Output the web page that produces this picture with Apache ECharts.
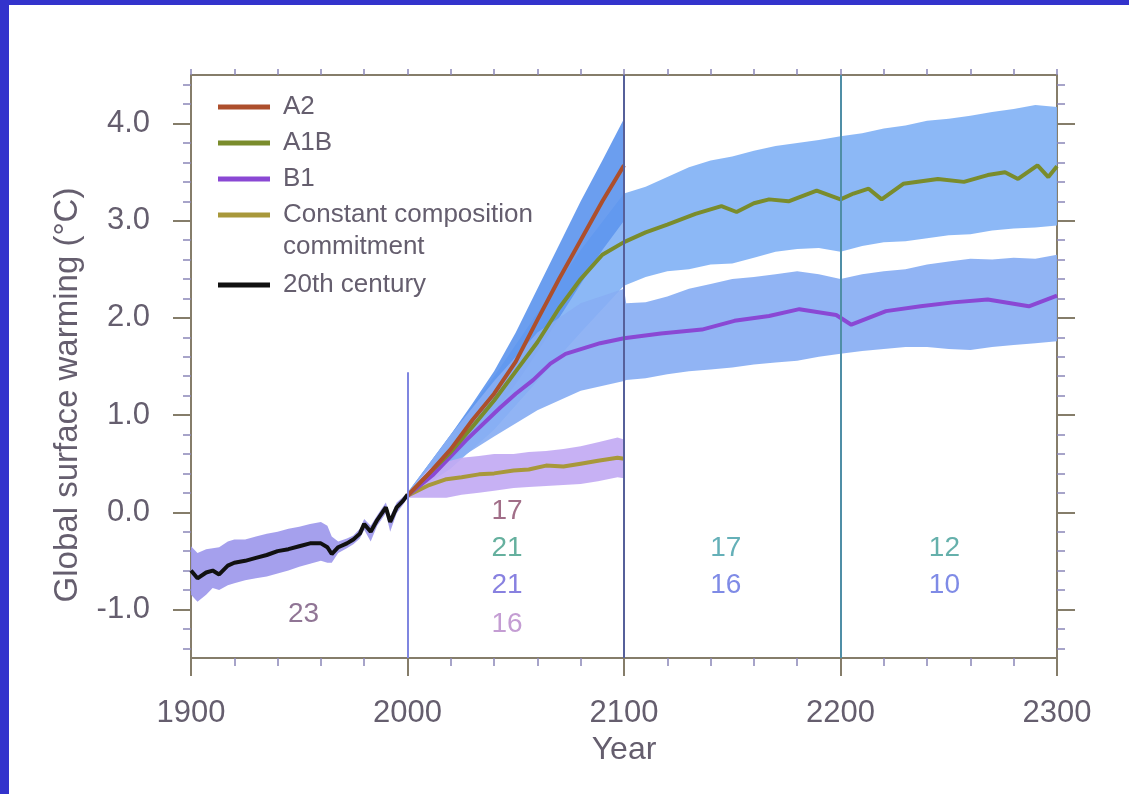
<!DOCTYPE html>
<html>
<head>
<meta charset="utf-8">
<title>Global surface warming</title>
<script src="https://cdn.jsdelivr.net/npm/echarts@6/dist/echarts.min.js"></script>
<style>
  html, body { margin: 0; padding: 0; background: #fff; }
  #chart { width: 1129px; height: 794px; }
</style>
</head>
<body>
<div id="chart"></div>
<script>
// 20th century
const histYears = [1900,1903,1907,1910,1913,1917,1920,1925,1930,1935,1940,1945,1950,1955,1960,1963,1965,1968,1972,1975,1978,1980,1983,1986,1990,1992,1995,1998,2000];
const hist   = [-0.6,-0.68,-0.62,-0.6,-0.64,-0.55,-0.52,-0.5,-0.47,-0.44,-0.4,-0.38,-0.35,-0.32,-0.32,-0.36,-0.43,-0.36,-0.32,-0.28,-0.22,-0.12,-0.2,-0.08,0.05,-0.1,0.05,0.12,0.18];
const histHi = [-0.35,-0.42,-0.38,-0.37,-0.36,-0.3,-0.28,-0.28,-0.25,-0.22,-0.2,-0.17,-0.15,-0.12,-0.1,-0.14,-0.25,-0.3,-0.27,-0.24,-0.17,-0.07,-0.14,-0.03,0.1,-0.04,0.1,0.16,0.2];
const histLo = [-0.85,-0.92,-0.85,-0.78,-0.8,-0.75,-0.73,-0.7,-0.68,-0.66,-0.63,-0.6,-0.56,-0.53,-0.5,-0.52,-0.52,-0.42,-0.37,-0.33,-0.27,-0.18,-0.3,-0.14,-0.01,-0.2,-0.01,0.08,0.15];

// A2
const a2Years = [2000,2010,2020,2030,2040,2050,2060,2070,2080,2090,2100];
const a2   = [0.17,0.4,0.65,0.95,1.22,1.55,1.98,2.4,2.8,3.2,3.57];
const a2Hi = [0.2,0.5,0.8,1.12,1.45,1.85,2.3,2.75,3.2,3.62,4.05];
const a2Lo = [0.15,0.32,0.52,0.78,1.02,1.32,1.65,2.0,2.35,2.7,3.0];

// A1B
const a1bYears = [2000,2010,2020,2030,2040,2050,2060,2070,2080,2090,2100,2110,2120,2133,2145,2152,2160,2167,2176,2189,2200,2206,2213,2219,2229,2245,2257,2268,2276,2282,2291,2296,2300];
const a1b = [0.17,0.4,0.62,0.88,1.15,1.45,1.75,2.1,2.4,2.65,2.78,2.88,2.96,3.07,3.15,3.09,3.18,3.22,3.2,3.31,3.22,3.28,3.33,3.22,3.38,3.43,3.4,3.47,3.5,3.43,3.57,3.45,3.56];
const a1bBandYears = [2000,2020,2040,2060,2080,2100,2110,2120,2130,2140,2150,2160,2170,2180,2190,2200,2210,2220,2230,2240,2250,2260,2270,2280,2290,2300];
const a1bHi = [0.2,0.8,1.4,2.05,2.7,3.28,3.35,3.45,3.55,3.62,3.66,3.72,3.77,3.8,3.83,3.87,3.9,3.95,3.98,4.03,4.05,4.08,4.12,4.15,4.19,4.17];
const a1bLo = [0.15,0.45,0.85,1.35,1.85,2.33,2.42,2.48,2.5,2.55,2.56,2.62,2.68,2.71,2.72,2.68,2.74,2.78,2.79,2.82,2.85,2.86,2.9,2.92,2.93,2.95];

// B1
const b1Years = [2000,2012,2027,2043,2050,2058,2066,2073,2089,2100,2117,2136,2151,2167,2181,2198,2205,2221,2237,2252,2268,2287,2300];
const b1 = [0.17,0.39,0.74,1.08,1.22,1.36,1.53,1.63,1.74,1.79,1.84,1.88,1.97,2.02,2.09,2.03,1.93,2.07,2.12,2.16,2.19,2.12,2.23];
const b1BandYears = [2000,2020,2040,2060,2080,2100,2101,2110,2120,2130,2140,2150,2160,2170,2180,2190,2200,2210,2220,2230,2240,2250,2260,2270,2280,2290,2300];
const b1Hi = [0.2,0.8,1.35,1.85,2.15,2.3,2.15,2.16,2.22,2.3,2.35,2.4,2.42,2.45,2.48,2.45,2.4,2.45,2.48,2.5,2.55,2.58,2.61,2.6,2.62,2.61,2.65];
const b1Lo = [0.15,0.5,0.78,1.05,1.25,1.35,1.36,1.38,1.42,1.45,1.47,1.49,1.52,1.54,1.56,1.6,1.63,1.66,1.68,1.7,1.7,1.68,1.67,1.7,1.72,1.74,1.76];

// constant composition commitment
const ccYears = [2000,2010,2018,2025,2033,2040,2049,2056,2064,2072,2080,2088,2097,2100];
const cc   = [0.17,0.28,0.34,0.36,0.39,0.4,0.43,0.44,0.48,0.47,0.5,0.53,0.56,0.55];
const ccHi = [0.2,0.45,0.52,0.56,0.58,0.6,0.6,0.62,0.63,0.65,0.68,0.72,0.77,0.75];
const ccLo = [0.15,0.15,0.15,0.18,0.2,0.22,0.25,0.26,0.27,0.28,0.29,0.32,0.36,0.35];

// model counts
const countYears  = [1952, 2046, 2046, 2046, 2046, 2147, 2147, 2248, 2248];
const countValues = [-1.05, 0.01, -0.37, -0.75, -1.15, -0.37, -0.75, -0.37, -0.75];
const countTexts  = ['23', '17', '21', '21', '16', '17', '16', '12', '10'];
const countColors = ['#74527a', '#8a4a6a', '#3f9c86', '#6a62d8', '#b585c8', '#3f9ca6', '#5f6ee0', '#3f9c96', '#5f6ee0'];

const yMajor = [-1, 0, 1, 2, 3, 4];
const xMin = 1900, xMax = 2300;

const FONT = "'Liberation Sans', Arial, Helvetica, sans-serif";
const TXT = '#655e6e';
const FRAME = '#857d6a';
const MINOR = '#8a86b8';

const colors = {
  a2: '#ad4f2c', a1b: '#7a8c2c', b1: '#8a48d4', cc: '#a8983a', hist: '#111111'
};

let yMinor = [];
for (let v = -1.4; v < 4.45; v += 0.2) {
  let r = Math.round(v * 10) / 10;
  if (Math.abs(r - Math.round(r)) > 0.01) yMinor.push(r);
}

function pairs(xs, ys) {
  return xs.map((x, i) => [x, ys[i]]);
}

// shaded spread: one polygon, upper edge then lower edge back
function band(name, xs, lo, hi, color) {
  return {
    name: name + ' band', type: 'custom', silent: true, animation: false, clip: true,
    data: xs.map((x, i) => [x, lo[i], hi[i]]),
    encode: { x: 0, y: [1, 2] },
    renderItem: function (params, api) {
      if (params.dataIndex !== 0) return;
      let top = xs.map((x, i) => api.coord([x, hi[i]]));
      let bot = xs.map((x, i) => api.coord([x, lo[i]])).reverse();
      return {
        type: 'polygon',
        shape: { points: top.concat(bot) },
        style: { fill: color, opacity: 0.92 }
      };
    }
  };
}

function line(name, xs, ys, color, z) {
  return {
    name: name, type: 'line', data: pairs(xs, ys), showSymbol: false, symbol: 'none',
    color: color, lineStyle: { color: color, width: 4 }, z: z, animation: false
  };
}

let series = [
  band('A1B', a1bBandYears, a1bLo, a1bHi, '#82b2f5'),
  band('A2', a2Years, a2Lo, a2Hi, '#5e96ee'),
  band('B1', b1BandYears, b1Lo, b1Hi, '#88aef3'),
  band('CC', ccYears, ccLo, ccHi, '#c2aaf3'),
  band('Hist', histYears, histLo, histHi, '#9d98ec')
];

series.push(line('Constant composition', ccYears, cc, colors.cc, 3));
series.push(line('B1', b1Years, b1, colors.b1, 3));
series.push(line('A1B', a1bYears, a1b, colors.a1b, 3));
series.push(line('A2', a2Years, a2, colors.a2, 3));
let histLine = line('20th century', histYears, hist, colors.hist, 4);
histLine.markLine = {
  silent: true, symbol: 'none', label: { show: false },
  lineStyle: { type: 'solid', width: 2 },
  data: [
    [{ coord: [2000, -1.5], lineStyle: { color: '#7f86e0' } }, { coord: [2000, 1.44] }],
    { xAxis: 2100, lineStyle: { color: '#56609a' } },
    { xAxis: 2200, lineStyle: { color: '#4f8ea6' } }
  ]
};
series.push(histLine);

series.push({
  name: 'counts', type: 'scatter', symbolSize: 0, silent: true, z: 5,
  data: countYears.map((x, i) => ({
    value: [x, countValues[i]],
    label: { color: countColors[i] }
  })),
  label: {
    show: true, position: 'inside', fontSize: 28, fontFamily: FONT,
    formatter: p => countTexts[p.dataIndex]
  },
  animation: false
});

const legendBase = {
  orient: 'vertical', left: 218, padding: 0, icon: 'rect',
  itemWidth: 52, itemHeight: 5, itemGap: 6, selectedMode: false,
  textStyle: { fontSize: 26, lineHeight: 30, color: TXT, fontFamily: FONT, padding: [0, 0, 0, 8] }
};

const option = {
  backgroundColor: '#ffffff',
  textStyle: { fontFamily: FONT },
  grid: { left: 191, right: 72, top: 75, bottom: 136, containLabel: false },
  legend: [
    Object.assign({}, legendBase, { top: 92, data: ['A2', 'A1B', 'B1', 'Constant composition'] }),
    Object.assign({}, legendBase, { top: 270, data: ['20th century'] })
  ],
  xAxis: [
    {
      type: 'value', position: 'bottom', min: xMin, max: xMax, interval: 100,
      axisLine: { show: true, onZero: false, lineStyle: { color: FRAME, width: 2 } },
      axisTick: { show: true, length: 18, lineStyle: { color: FRAME, width: 2 } },
      minorTick: { show: true, splitNumber: 5, length: 8, lineStyle: { color: MINOR, width: 1.5 } },
      axisLabel: { margin: 40, fontSize: 31, color: TXT, fontFamily: FONT, formatter: v => String(v) },
      splitLine: { show: false }, minorSplitLine: { show: false },
      name: 'Year', nameLocation: 'middle', nameGap: 76,
      nameTextStyle: { fontSize: 32, color: TXT, fontFamily: FONT }
    },
    {
      type: 'value', position: 'top', min: xMin, max: xMax, interval: 20,
      axisLine: { show: true, onZero: false, lineStyle: { color: FRAME, width: 2 } },
      axisTick: { show: true, length: 6, lineStyle: { color: MINOR, width: 1.5 } },
      axisLabel: { show: false }, splitLine: { show: false }
    }
  ],
  yAxis: [
    {
      type: 'value', position: 'left', min: -1.5, max: 4.5,
      axisLine: { show: true, onZero: false, lineStyle: { color: FRAME, width: 2 } },
      axisTick: { show: true, customValues: yMajor, length: 18, lineStyle: { color: FRAME, width: 2 } },
      axisLabel: { customValues: yMajor, formatter: v => v.toFixed(1), margin: 41, fontSize: 31, color: TXT, fontFamily: FONT },
      splitLine: { show: false }
    },
    {
      type: 'value', position: 'left', min: -1.5, max: 4.5,
      axisLine: { show: false },
      axisTick: { show: true, customValues: yMinor, length: 8, lineStyle: { color: MINOR, width: 1.5 } },
      axisLabel: { show: false }, splitLine: { show: false }
    },
    {
      type: 'value', position: 'right', min: -1.5, max: 4.5,
      axisLine: { show: true, onZero: false, lineStyle: { color: FRAME, width: 2 } },
      axisTick: { show: true, customValues: yMajor, length: 18, lineStyle: { color: FRAME, width: 2 } },
      axisLabel: { show: false }, splitLine: { show: false }
    },
    {
      type: 'value', position: 'right', min: -1.5, max: 4.5,
      axisLine: { show: false },
      axisTick: { show: true, customValues: yMinor, length: 8, lineStyle: { color: MINOR, width: 1.5 } },
      axisLabel: { show: false }, splitLine: { show: false }
    }
  ],
  graphic: [
    { type: 'rect', left: 0, top: 0, shape: { width: 9, height: 794 }, style: { fill: '#3333cc' }, silent: true },
    { type: 'rect', left: 0, top: 0, shape: { width: 1129, height: 5 }, style: { fill: '#3333cc' }, silent: true },
    {
      type: 'text', x: 283, y: 247, silent: true,
      style: { text: 'commitment', fontSize: 26, fill: TXT, fontFamily: FONT, verticalAlign: 'middle' }
    },
    {
      type: 'text', x: 68, y: 395, rotation: Math.PI / 2, silent: true,
      style: { text: 'Global surface warming (°C)', fontSize: 33, fill: TXT, fontFamily: FONT, align: 'center', verticalAlign: 'middle' }
    }
  ],
  series: series
};

const myChart = echarts.init(document.getElementById('chart'));
myChart.setOption(option);
</script>
</body>
</html>
